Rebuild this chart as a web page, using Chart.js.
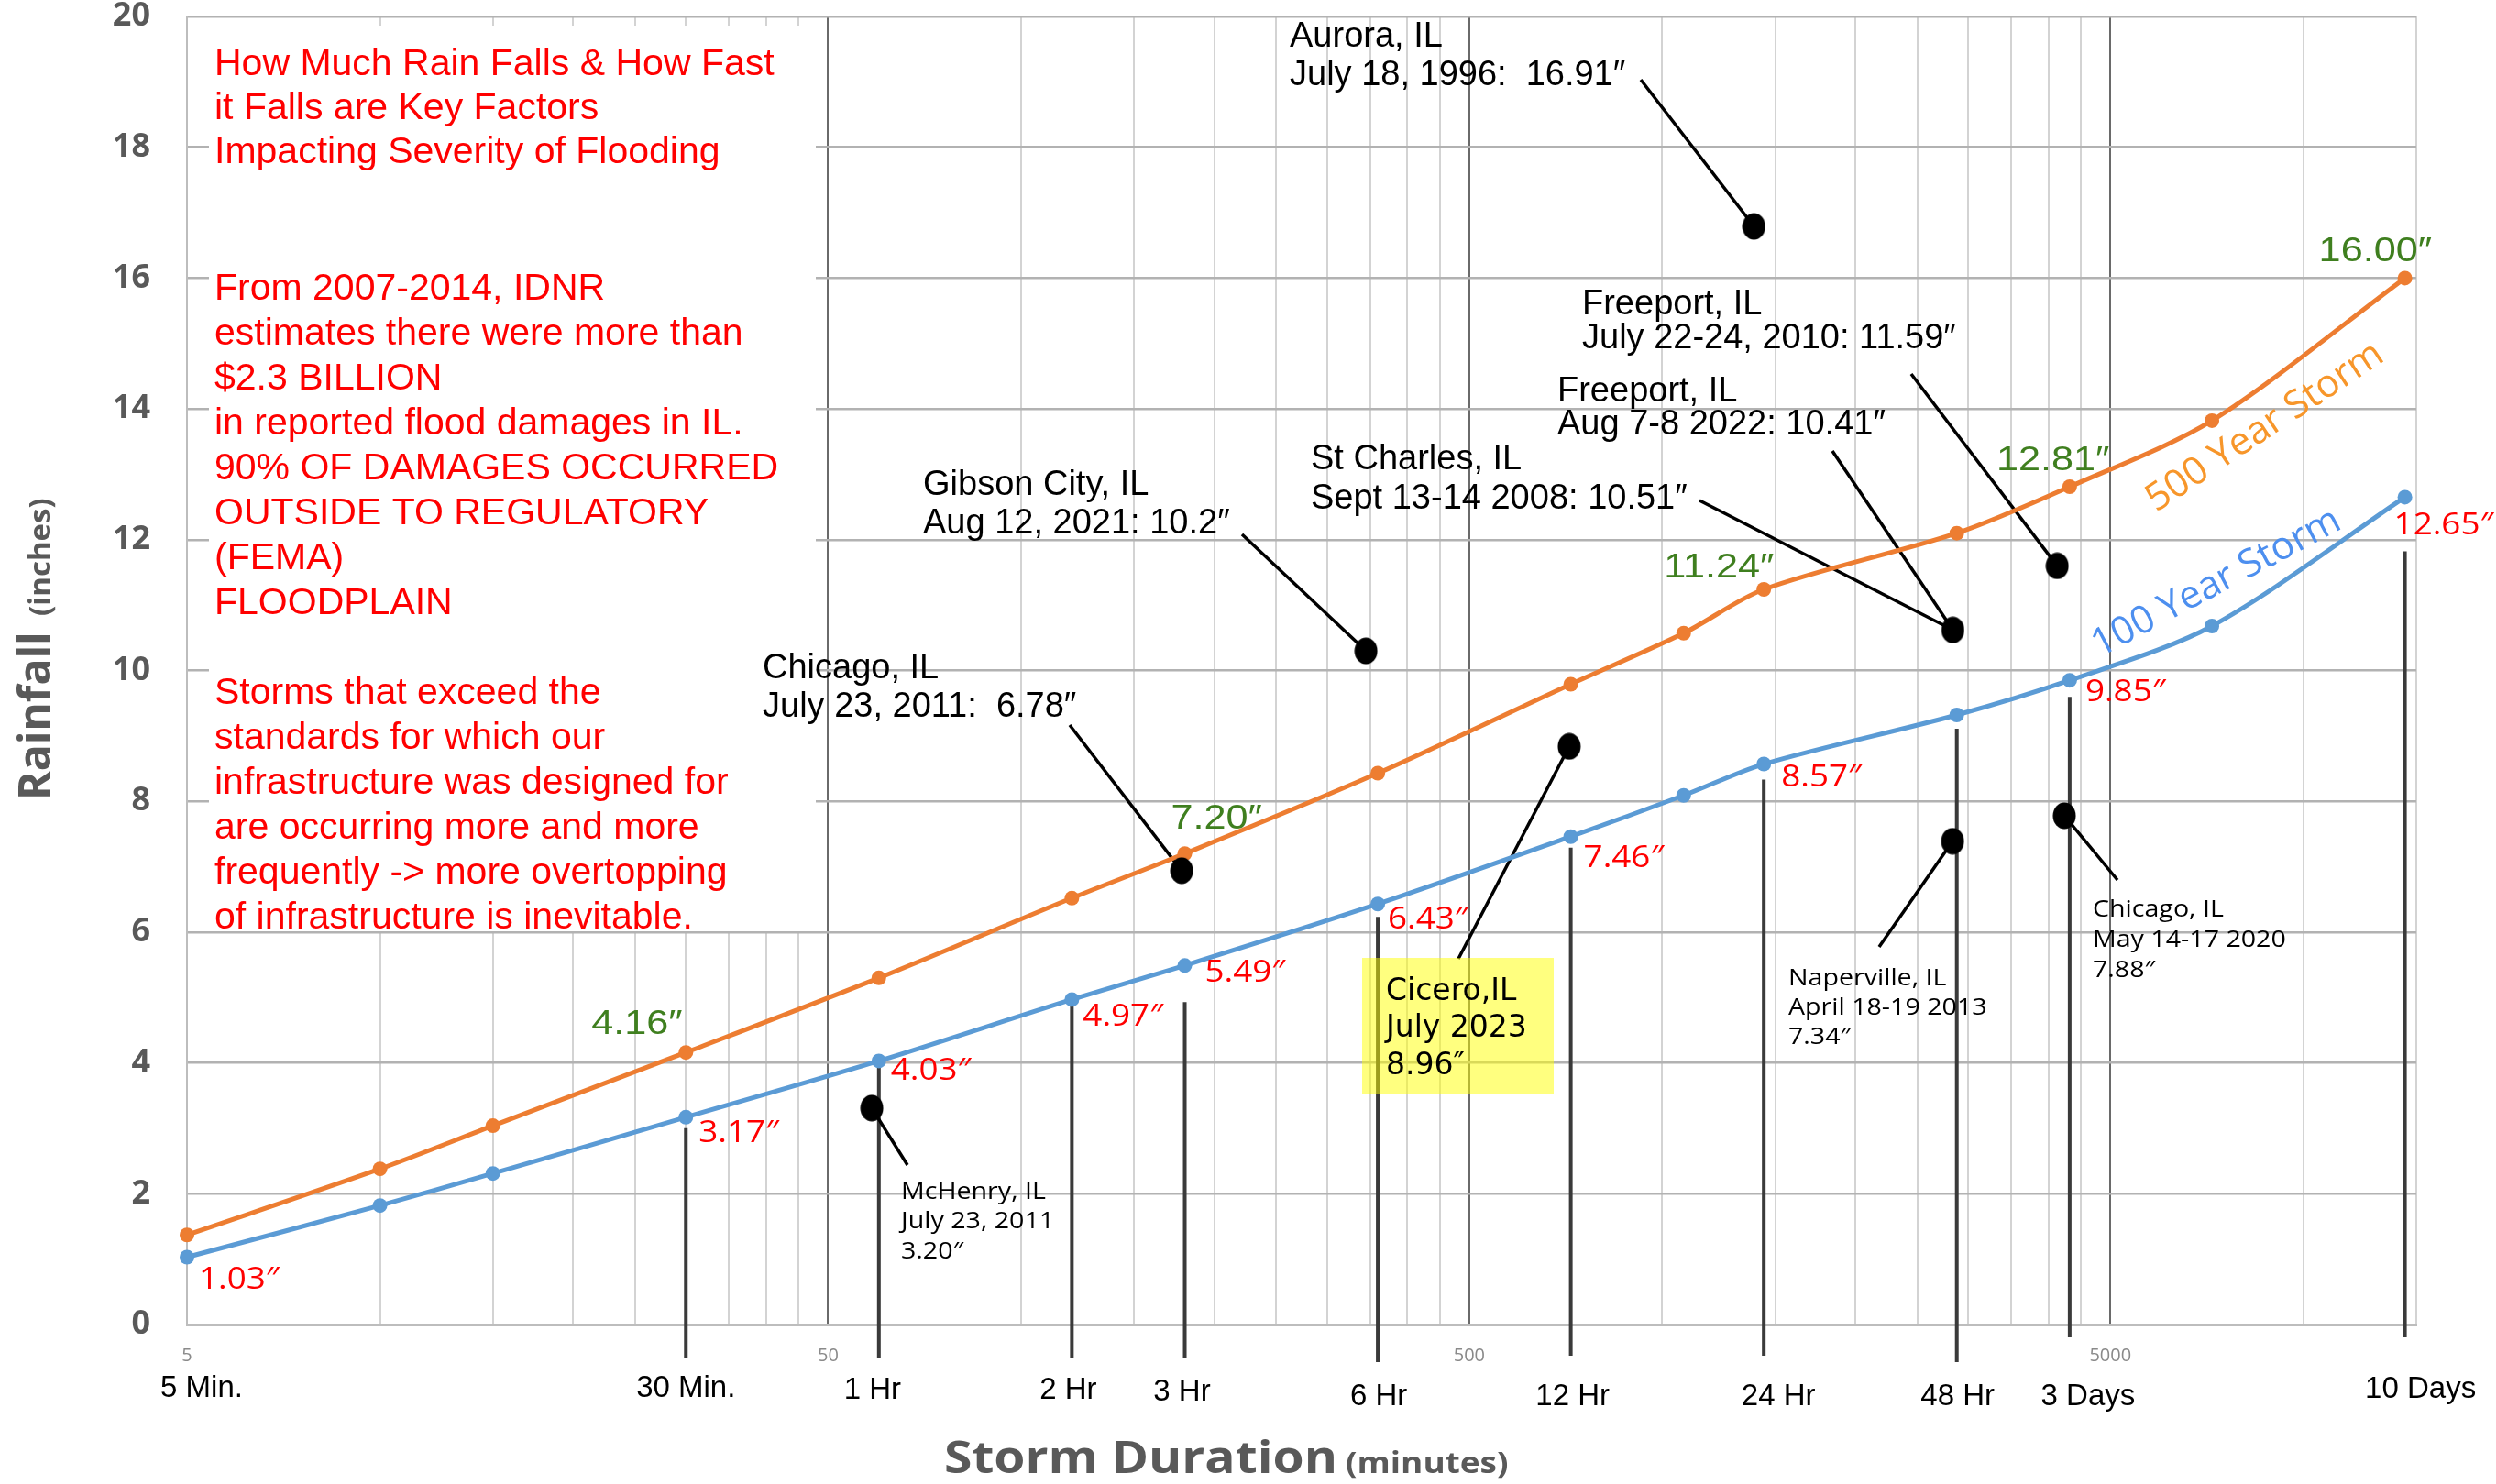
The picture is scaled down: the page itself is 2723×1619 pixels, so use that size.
<!DOCTYPE html>
<html>
<head>
<meta charset="utf-8">
<title>Rainfall vs Storm Duration</title>
<script src="https://cdn.jsdelivr.net/npm/chart.js@4.4.1/dist/chart.umd.min.js"></script>
<style>
  html, body { margin: 0; padding: 0; background: #fff; }
  canvas { display: block; }
</style>
</head>
<body>
<canvas id="rainChart" width="2723" height="1619"></canvas>
<script>
// Storm durations (minutes) and rainfall depth (inches)
const durations = [5, 10, 15, 30, 60, 120, 180, 360, 720, 1080, 1440, 2880, 4320, 7200, 14400];
const rain100 = [1.03, 1.82, 2.31, 3.17, 4.03, 4.97, 5.49, 6.43, 7.46, 8.09, 8.57, 9.32, 9.85, 10.68, 12.65];
const rain500 = [1.37, 2.38, 3.04, 4.16, 5.30, 6.52, 7.20, 8.43, 9.79, 10.57, 11.24, 12.10, 12.81, 13.82, 16.00];

// Recorded storms (black dots)
const eventMinutes = [1390, 345, 178, 2840, 4130, 58.5, 716, 2837, 4238];
const eventRain = [16.79, 10.30, 6.94, 10.62, 11.60, 3.31, 8.84, 7.39, 7.78];

// Axes
const xMin = 5;
const xMax = 15000;
const yMax = 20;
const yStep = 2;
const xTickLabels = [5, 50, 500, 5000];
const durationMarks = [5, 30, 60, 120, 180, 360, 720, 1440, 2880, 4320, 14400];
const durationNames = ['5 Min.', '30 Min.', '1 Hr', '2 Hr', '3 Hr', '6 Hr', '12 Hr', '24 Hr', '48 Hr', '3 Days', '10 Days'];

// Points that carry a value label
const labels100 = [0, 3, 4, 5, 6, 7, 8, 10, 12, 14];
const labels500 = [3, 6, 10, 12, 14];

// ---- layout (canvas pixels) ----
const offsets100 = [[13, 34], [14, 27], [13, 21], [12, 29], [22, 18], [11, 27], [14, 33], [19, 24], [17, 23], [-12, 41]];
const offsets500 = [[-103, -20], [-15, -27], [-109, -13], [-80, -18], [-94, -18]];
const durationDx = [16, 0, -7, -4, -3, 1, 2, 16, 1, 20, 17];
const durationBase = [1524, 1524, 1526, 1526, 1528, 1533, 1533, 1533, 1533, 1533, 1525];

// vertical lines from the duration labels up to the 100 year curve
const callouts = [
    { min: 30, gap: 12, bottom: 1481 },
    { min: 60, gap: 0, bottom: 1481 },
    { min: 120, gap: 2, bottom: 1481 },
    { min: 180, gap: 40, bottom: 1481 },
    { min: 360, gap: 14, bottom: 1486 },
    { min: 720, gap: 12, bottom: 1479 },
    { min: 1440, gap: 17, bottom: 1479 },
    { min: 2880, gap: 15, bottom: 1486 },
    { min: 4320, gap: 18, bottom: 1459 },
    { min: 14400, gap: 59, bottom: 1459 }
];

const noteLines = [
    ['How Much Rain Falls & How Fast', 82],
    ['it Falls are Key Factors', 130],
    ['Impacting Severity of Flooding', 178],
    ['From 2007-2014, IDNR', 327],
    ['estimates there were more than', 376],
    ['$2.3 BILLION', 425],
    ['in reported flood damages in IL.', 474],
    ['90% OF DAMAGES OCCURRED', 523],
    ['OUTSIDE TO REGULATORY', 572],
    ['(FEMA)', 621],
    ['FLOODPLAIN', 670],
    ['Storms that exceed the', 768],
    ['standards for which our', 817],
    ['infrastructure was designed for', 866],
    ['are occurring more and more', 915],
    ['frequently -> more overtopping', 964],
    ['of infrastructure is inevitable.', 1013]
];

const FONT_NOTE = '41px "Liberation Sans", Arial, sans-serif';
const FONT_EVENT = '38px "Liberation Sans", Arial, sans-serif';
const FONT_SMALL = '26px "Open Sans", sans-serif';
const FONT_CICERO = '33px "DejaVu Sans", sans-serif';
const FONT_VAL100 = '32px "Open Sans", "DejaVu Sans", sans-serif';
const FONT_VAL500 = '36px "Liberation Sans", Arial, sans-serif';
const FONT_DUR = '33px "Liberation Sans", Arial, sans-serif';
const FONT_STORM = '42px "Open Sans", sans-serif';

const eventText = [
    { lines: ['Aurora, IL', 'July 18, 1996:  16.91″'], x: 1407, y: [51, 93], font: FONT_EVENT },
    { lines: ['Gibson City, IL', 'Aug 12, 2021: 10.2″'], x: 1007, y: [540, 582], font: FONT_EVENT },
    { lines: ['Chicago, IL', 'July 23, 2011:  6.78″'], x: 832, y: [740, 782], font: FONT_EVENT },
    { lines: ['St Charles, IL', 'Sept 13-14 2008: 10.51″'], x: 1430, y: [512, 555], font: FONT_EVENT },
    { lines: ['Freeport, IL', 'Aug 7-8 2022: 10.41″'], x: 1699, y: [438, 474], font: FONT_EVENT },
    { lines: ['Freeport, IL', 'July 22-24, 2010: 11.59″'], x: 1726, y: [343, 380], font: FONT_EVENT },
    { lines: ['McHenry, IL', 'July 23, 2011', '3.20″'], x: 983, y: [1308, 1340, 1373], font: FONT_SMALL, sx: 1.1 },
    { lines: ['Naperville, IL', 'April 18-19 2013', '7.34″'], x: 1951, y: [1075, 1107, 1139], font: FONT_SMALL, sx: 1.1 },
    { lines: ['Chicago, IL', 'May 14-17 2020', '7.88″'], x: 2283, y: [1000, 1033, 1066], font: FONT_SMALL, sx: 1.1 },
    { lines: ['Cicero,IL', 'July 2023', '8.96″'], x: 1512, y: [1091, 1131, 1172], font: FONT_CICERO }
];

// leader lines: text end -> event dot index
const leaders = [
    [1790, 87, 0], [1355, 583, 1], [1167, 791, 2], [1854, 546, 3], [1999, 492, 3],
    [2085, 408, 4], [990, 1271, 5], [1591, 1046, 6], [2050, 1033, 7], [2310, 960, 8]
];

// grid: every 5x10^n multiple across the range
const xGrid = [];
[5, 50, 500, 5000].forEach(base => {
    for (let k = 1; k <= 9; k++) {
        if (base * k <= xMax) xGrid.push(base * k);
    }
});

// black ellipse used for the storm dots
const dot = document.createElement('canvas');
dot.width = 26;
dot.height = 30;
const g = dot.getContext('2d');
g.beginPath();
g.ellipse(13, 15, 12.5, 14.5, 0, 0, Math.PI * 2);
g.fillStyle = '#000';
g.fill();

function drawText(ctx, str, x, y, font, color, o = {}) {
    ctx.save();
    ctx.font = font;
    ctx.fillStyle = color;
    ctx.textAlign = o.align || 'left';
    ctx.textBaseline = o.baseline || 'alphabetic';
    ctx.translate(x, y);
    if (o.rot) ctx.rotate(o.rot);
    if (o.sx) ctx.scale(o.sx, 1);
    ctx.fillText(str, 0, 0);
    ctx.restore();
}

const overlayPlugin = {
    id: 'overlay',
    beforeDraw(chart) {
        const ctx = chart.ctx;
        ctx.save();
        ctx.fillStyle = '#fff';
        ctx.fillRect(0, 0, chart.width, chart.height);
        ctx.restore();
    },
    beforeDatasetsDraw(chart) {
        const { ctx, scales: { x, y } } = chart;
        ctx.save();
        // white panel behind the notes
        ctx.fillStyle = '#fff';
        ctx.fillRect(228, 28, 662, 988);

        // duration callout lines
        ctx.strokeStyle = '#3a3a3a';
        ctx.lineWidth = 4;
        callouts.forEach(c => {
            const px = x.getPixelForValue(c.min);
            const top = y.getPixelForValue(rain100[durations.indexOf(c.min)]) + c.gap;
            ctx.beginPath();
            ctx.moveTo(px, top);
            ctx.lineTo(px, c.bottom);
            ctx.stroke();
        });

        // leader lines to the storm dots
        ctx.strokeStyle = '#000';
        ctx.lineWidth = 3.5;
        leaders.forEach(([sx, sy, i]) => {
            ctx.beginPath();
            ctx.moveTo(sx, sy);
            ctx.lineTo(x.getPixelForValue(eventMinutes[i]), y.getPixelForValue(eventRain[i]));
            ctx.stroke();
        });

        // Cicero highlight
        ctx.fillStyle = 'rgba(255, 255, 0, 0.5)';
        ctx.fillRect(1486, 1045, 209, 148);
        ctx.restore();
    },
    afterDraw(chart) {
        const { ctx, scales: { x, y } } = chart;

        noteLines.forEach(([t, by]) => drawText(ctx, t, 234, by, FONT_NOTE, '#ff0000'));

        labels100.forEach((idx, k) => {
            const px = x.getPixelForValue(durations[idx]) + offsets100[k][0];
            const py = y.getPixelForValue(rain100[idx]) + offsets100[k][1];
            drawText(ctx, rain100[idx].toFixed(2) + '″', px, py, FONT_VAL100, '#ff0000', { sx: 1.15 });
        });
        labels500.forEach((idx, k) => {
            const px = x.getPixelForValue(durations[idx]) + offsets500[k][0];
            const py = y.getPixelForValue(rain500[idx]) + offsets500[k][1];
            drawText(ctx, rain500[idx].toFixed(2) + '″', px, py, FONT_VAL500, '#3f7f1f', { sx: 1.2 });
        });

        eventText.forEach(ev => {
            ev.lines.forEach((t, i) => drawText(ctx, t, ev.x, ev.y[i], ev.font, '#000', { sx: ev.sx }));
        });

        drawText(ctx, '500 Year Storm', 2471, 466, FONT_STORM, '#f7962a',
            { align: 'center', baseline: 'middle', rot: -33.6 * Math.PI / 180 });
        drawText(ctx, '100 Year Storm', 2418, 636, FONT_STORM, '#4d8fef',
            { align: 'center', baseline: 'middle', rot: -28 * Math.PI / 180 });

        durationNames.forEach((t, i) => {
            const px = x.getPixelForValue(durationMarks[i]) + durationDx[i];
            drawText(ctx, t, px, durationBase[i], FONT_DUR, '#000', { align: 'center' });
        });

        // axis titles
        drawText(ctx, 'Storm Duration', 1030, 1607, 'bold 48px "Open Sans", sans-serif', '#595959', { sx: 1.15 });
        drawText(ctx, '(minutes)', 1468, 1607, 'bold 33px "Open Sans", sans-serif', '#595959', { sx: 1.12 });
        drawText(ctx, 'Rainfall', 55, 873, 'bold 48px "Open Sans", sans-serif', '#595959', { rot: -Math.PI / 2 });
        drawText(ctx, '(inches)', 55, 672, 'bold 33px "Open Sans", sans-serif', '#595959', { rot: -Math.PI / 2 });
    }
};

const ctx = document.getElementById('rainChart');
new Chart(ctx, {
    type: 'line',
    data: {
        datasets: [
            {
                label: 'Storm events',
                type: 'scatter',
                data: eventMinutes.map((m, i) => ({ x: m, y: eventRain[i] })),
                pointStyle: dot,
                pointRadius: 14,
                order: 0
            },
            {
                label: '500 Year Storm',
                data: durations.map((m, i) => ({ x: m, y: rain500[i] })),
                borderColor: '#ed7d31',
                backgroundColor: '#ed7d31',
                pointBackgroundColor: '#ed7d31',
                pointBorderWidth: 0,
                pointRadius: 8,
                borderWidth: 5,
                tension: 0.3,
                clip: false,
                order: 1
            },
            {
                label: '100 Year Storm',
                data: durations.map((m, i) => ({ x: m, y: rain100[i] })),
                borderColor: '#5b9bd5',
                backgroundColor: '#5b9bd5',
                pointBackgroundColor: '#5b9bd5',
                pointBorderWidth: 0,
                pointRadius: 8,
                borderWidth: 5,
                tension: 0.3,
                clip: false,
                order: 2
            }
        ]
    },
    options: {
        responsive: false,
        animation: false,
        events: [],
        layout: { padding: { top: 18, right: 87, left: 0, bottom: 0 } },
        plugins: {
            legend: { display: false },
            tooltip: { enabled: false }
        },
        scales: {
            x: {
                type: 'logarithmic',
                min: xMin,
                max: xMax,
                afterBuildTicks: scale => {
                    scale.ticks = xGrid.map(v => ({ value: v }));
                },
                afterFit: scale => { scale.height = 174; },
                grid: {
                    drawTicks: false,
                    lineWidth: 2,
                    color: c => (c.tick && [50, 500, 5000].includes(c.tick.value)) ? '#6a6a6a' : '#d3d3d3'
                },
                border: { color: '#bdbdbd', width: 3 },
                ticks: {
                    autoSkip: false,
                    maxRotation: 0,
                    padding: 24,
                    color: '#8a8a8a',
                    font: { family: '"Open Sans", sans-serif', size: 20, lineHeight: 1 },
                    callback: v => xTickLabels.includes(v) ? String(v) : ''
                }
            },
            y: {
                min: 0,
                max: yMax,
                afterFit: scale => { scale.width = 204; },
                grid: {
                    drawTicks: true,
                    tickLength: 40,
                    tickColor: 'rgba(0, 0, 0, 0)',
                    lineWidth: 2.5,
                    color: '#b2b2b2'
                },
                border: { color: '#bdbdbd', width: 2 },
                ticks: {
                    stepSize: yStep,
                    padding: 0,
                    color: '#595959',
                    font: { family: '"Open Sans", sans-serif', size: 36, weight: 'bold', lineHeight: 1 }
                }
            }
        }
    },
    plugins: [overlayPlugin]
});
</script>
</body>
</html>
